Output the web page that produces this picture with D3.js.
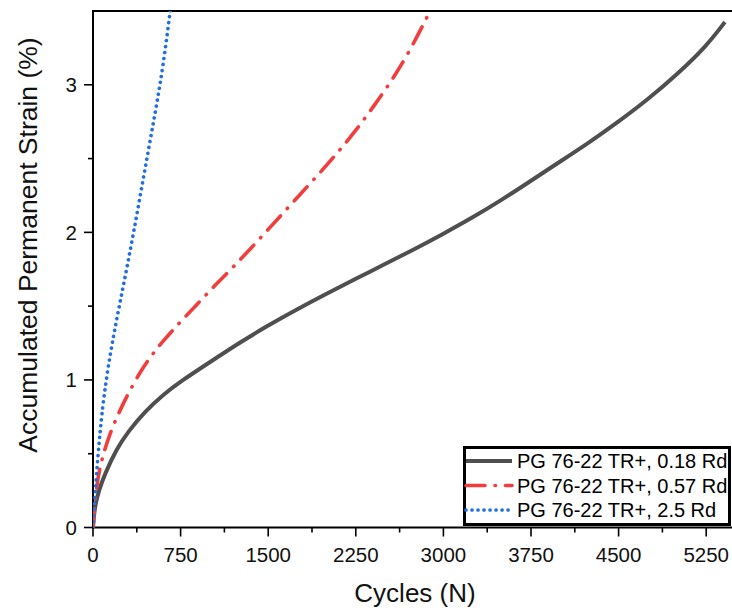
<!DOCTYPE html>
<html>
<head>
<meta charset="utf-8">
<script src="https://cdn.jsdelivr.net/npm/d3@7.9.0/dist/d3.min.js"></script>
<style>
  body { margin: 0; background: #fff; }
  svg { display: block; font-family: "Liberation Sans", Arial, sans-serif; }
</style>
</head>
<body>
<svg id="chart" width="732" height="611"></svg>
<script>
// values
const cyclesGray = [0, 10, 25, 50, 100, 200, 300, 450, 600, 750, 1000, 1250, 1500, 1750, 2000, 2250, 2500, 2750, 3000, 3250, 3500, 3750, 4000, 4250, 4500, 4750, 5000, 5250, 5410];
const strainGray = [0, 0.1, 0.17, 0.25, 0.36, 0.53, 0.65, 0.79, 0.9, 0.99, 1.12, 1.25, 1.37, 1.48, 1.585, 1.685, 1.785, 1.885, 1.99, 2.1, 2.22, 2.35, 2.48, 2.61, 2.75, 2.9, 3.07, 3.26, 3.425];

const cyclesRed = [0, 10, 30, 60, 100, 150, 200, 250, 300, 400, 500, 600, 750, 900, 1050, 1200, 1350, 1500, 1650, 1800, 1950, 2100, 2250, 2400, 2550, 2700, 2880];
const strainRed = [0, 0.1, 0.28, 0.41, 0.53, 0.645, 0.74, 0.825, 0.905, 1.05, 1.165, 1.265, 1.395, 1.52, 1.645, 1.765, 1.89, 2.02, 2.15, 2.28, 2.41, 2.545, 2.69, 2.85, 3.02, 3.21, 3.49];

const cyclesBlue = [0, 10, 20, 30, 45, 60, 75, 100, 150, 200, 250, 300, 350, 400, 450, 500, 550, 600, 650, 665];
const strainBlue = [0, 0.12, 0.24, 0.36, 0.51, 0.64, 0.76, 0.93, 1.19, 1.4, 1.6, 1.8, 2.01, 2.23, 2.45, 2.67, 2.89, 3.13, 3.43, 3.53];

const seriesNames = ['PG 76-22 TR+, 0.18 Rd', 'PG 76-22 TR+, 0.57 Rd', 'PG 76-22 TR+, 2.5 Rd'];
const xTicks = [0, 750, 1500, 2250, 3000, 3750, 4500, 5250];
const yTicks = [0, 1, 2, 3];

const series = [
  { name: seriesNames[0], x: cyclesGray, y: strainGray, color: '#4f4f4f', width: 4, dash: null, cap: 'butt' },
  { name: seriesNames[1], x: cyclesRed, y: strainRed, color: '#f23d3d', width: 3.6, dash: '19 10 0.5 10', cap: 'round' },
  { name: seriesNames[2], x: cyclesBlue, y: strainBlue, color: '#1f6fe3', width: 3.7, dash: '0.01 6', cap: 'round' }
];

const svg = d3.select('#chart');
const plotLeft = 93, plotTop = 11, plotBottom = 527.5;

const x = d3.scaleLinear().domain([0, 5500]).range([plotLeft, plotLeft + 5500 * 87.6 / 750]);
const y = d3.scaleLinear().domain([0, 3.5]).range([plotBottom, plotTop]);

svg.append('defs').append('clipPath').attr('id', 'plot')
  .append('rect').attr('x', plotLeft).attr('y', plotTop).attr('width', 732 - plotLeft).attr('height', plotBottom - plotTop);

// minor ticks
const xMinor = d3.range(375, 5500, 750);
const yMinor = d3.range(0.5, 3.5, 1);

const g = svg.append('g');

g.selectAll('.xminor').data(xMinor).join('line')
  .attr('x1', d => x(d)).attr('x2', d => x(d))
  .attr('y1', plotBottom).attr('y2', plotBottom + 5)
  .attr('stroke', '#000').attr('stroke-width', 1.6);
g.selectAll('.xmajor').data(xTicks).join('line')
  .attr('x1', d => x(d)).attr('x2', d => x(d))
  .attr('y1', plotBottom).attr('y2', plotBottom + 9)
  .attr('stroke', '#000').attr('stroke-width', 1.6);
g.selectAll('.yminor').data(yMinor).join('line')
  .attr('x1', plotLeft - 5).attr('x2', plotLeft)
  .attr('y1', d => y(d)).attr('y2', d => y(d))
  .attr('stroke', '#000').attr('stroke-width', 1.6);
g.selectAll('.ymajor').data(yTicks).join('line')
  .attr('x1', plotLeft - 9).attr('x2', plotLeft)
  .attr('y1', d => y(d)).attr('y2', d => y(d))
  .attr('stroke', '#000').attr('stroke-width', 1.6);

// tick labels
g.selectAll('.xlab').data(xTicks).join('text')
  .attr('x', d => x(d)).attr('y', 562)
  .attr('text-anchor', 'middle').attr('font-size', 20.5).attr('fill', '#111')
  .text(d => d);
g.selectAll('.ylab').data(yTicks).join('text')
  .attr('x', 77).attr('y', d => y(d) + 7.5)
  .attr('text-anchor', 'end').attr('font-size', 20.5).attr('fill', '#111')
  .text(d => d);

// axis lines
svg.append('line').attr('x1', plotLeft).attr('x2', 732).attr('y1', plotBottom).attr('y2', plotBottom)
  .attr('stroke', '#000').attr('stroke-width', 2);
svg.append('line').attr('x1', plotLeft).attr('x2', 732).attr('y1', plotTop).attr('y2', plotTop)
  .attr('stroke', '#000').attr('stroke-width', 2);
svg.append('line').attr('x1', plotLeft).attr('x2', plotLeft).attr('y1', plotTop - 1).attr('y2', plotBottom + 1)
  .attr('stroke', '#000').attr('stroke-width', 2);

// titles
svg.append('text').attr('x', 415).attr('y', 602)
  .attr('text-anchor', 'middle').attr('font-size', 26).attr('fill', '#111')
  .text('Cycles (N)');
svg.append('text')
  .attr('transform', 'translate(37,245) rotate(-90)')
  .attr('text-anchor', 'middle').attr('font-size', 26.5).attr('fill', '#111')
  .text('Accumulated Permanent Strain (%)');

// curves
const line = d3.line()
  .x(d => x(d[0]))
  .y(d => y(d[1]))
  .curve(d3.curveBasis);

svg.append('g').attr('clip-path', 'url(#plot)')
  .selectAll('path').data(series).join('path')
  .attr('d', s => line(s.x.map((c, i) => [c, s.y[i]])))
  .attr('fill', 'none')
  .attr('stroke', s => s.color)
  .attr('stroke-width', s => s.width)
  .attr('stroke-linecap', s => s.cap)
  .attr('stroke-dasharray', s => s.dash);

// legend
const legend = svg.append('g');
legend.append('rect')
  .attr('x', 464.5).attr('y', 447.5).attr('width', 265).attr('height', 77)
  .attr('fill', '#fff').attr('stroke', '#000').attr('stroke-width', 3);

const rows = legend.selectAll('.row').data(series).join('g')
  .attr('transform', (d, i) => `translate(0,${461 + i * 24.5})`);
rows.append('line')
  .attr('x1', 466).attr('x2', 512).attr('y1', 0).attr('y2', 0)
  .attr('stroke', d => d.color)
  .attr('stroke-width', d => d.width)
  .attr('stroke-linecap', d => d.cap)
  .attr('stroke-dasharray', d => d.dash);
rows.append('text')
  .attr('x', 517).attr('y', 7)
  .attr('font-size', 20).attr('fill', '#000')
  .text(d => d.name);
</script>
</body>
</html>
